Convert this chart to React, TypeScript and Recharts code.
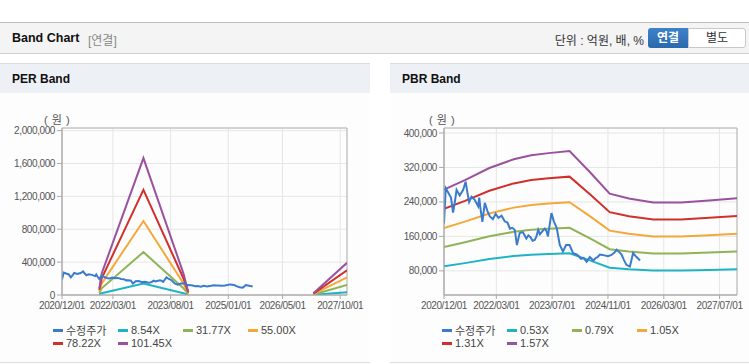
import React from 'react'
import { LineChart, Line, XAxis, YAxis, CartesianGrid, ReferenceArea } from 'recharts'

// months counted from 2020/12/01
const priceMonths = [
  0, 0.5, 1.2, 2, 2.6, 3.2, 3.6, 4.5, 5.5, 6.2, 6.7, 7.2, 7.9, 8.8, 9.4, 9.8, 10.1, 10.4, 11, 11.7,
  12.4, 13.1, 14, 14.8, 15.6, 16.5, 17.4, 18.2, 18.9, 19.6, 20.3, 20.9, 21.7, 22.6, 23.6, 24.2, 24.8, 25.4, 26, 26.5,
  27, 27.5, 28, 28.9, 29.4, 29.8, 30.8, 31.5, 32.3, 33.2, 34.1, 35, 36, 37, 38, 38.5, 39.3, 40, 40.9, 41.8,
  42.8, 43.5, 44, 44.7, 45.5, 46, 47, 48, 48.8, 49.5, 50.2, 50.9, 51.6, 52.3, 53.3, 54.2, 55.2, 56.2,
]
const priceValues = [
  190000, 272000, 262000, 250000, 215000, 245000, 268000, 255000, 268000, 287000, 262000, 240000, 252000, 245000, 236000, 230000, 250000, 228000, 194000, 238000,
  220000, 207000, 200000, 212000, 203000, 208000, 195000, 192000, 178000, 180000, 175000, 140000, 168000, 170000, 155000, 162000, 158000, 150000, 152000, 160000,
  175000, 165000, 170000, 178000, 172000, 160000, 214000, 195000, 180000, 140000, 125000, 140000, 140000, 121000, 118000, 115000, 108000, 110000, 101000, 112000,
  104000, 110000, 112000, 118000, 117000, 116000, 114000, 117000, 122000, 129000, 124000, 118000, 105000, 94000, 90000, 121000, 112000, 104000,
]

const perTickMonths = [0, 15, 32, 49, 65, 82]
const perTickLabels = ['2020/12/01', '2022/03/01', '2023/08/01', '2025/01/01', '2026/05/01', '2027/10/01']
const perYTicks = [0, 400000, 800000, 1200000, 1600000, 2000000]

const perBandMonths = [11, 11.7, 24, 35.8, 37.2, 55, 74.1, 84]
const per854 = [7000, 22000, 140000, 22000, 3000, null, 2000, 33000]
const per3177 = [25000, 82000, 522000, 82000, 13000, null, 6000, 122000]
const per5500 = [44000, 142000, 900000, 141000, 22000, null, 11000, 213000]
const per7822 = [62000, 202000, 1280000, 201000, 31000, null, 16000, 300000]
const per10145 = [80000, 262000, 1666000, 261000, 40000, null, 20000, 392000]

const pbrTickMonths = [0, 15, 31, 47, 63, 79]
const pbrTickLabels = ['2020/12/01', '2022/03/01', '2023/07/01', '2024/11/01', '2026/03/01', '2027/07/01']
const pbrYTicks = [80000, 160000, 240000, 320000, 400000]

const pbrBandMonths = [0, 6, 13, 20, 25, 30, 36, 42, 47.5, 53, 60, 68, 76, 84]
const pbr053 = [90600, 98000, 107600, 114500, 117700, 119300, 120800, 103900, 87500, 83700, 80600, 80600, 82200, 84000]
const pbr079 = [135100, 146200, 160400, 170600, 175400, 177800, 180100, 154800, 130400, 124800, 120100, 120100, 122500, 125200]
const pbr105 = [179600, 194300, 213200, 226800, 233100, 236300, 239400, 205800, 173300, 165900, 159600, 159600, 162800, 166400]
const pbr131 = [224000, 242400, 265900, 283000, 290800, 294800, 298700, 256800, 216200, 207000, 199100, 199100, 203100, 207600]
const pbr157 = [268500, 290500, 318700, 339100, 348500, 353300, 358000, 307700, 259100, 248100, 238600, 238600, 243400, 248800]

const colors = ['#3a7bcc', '#1fb3c6', '#8fb356', '#f5a83a', '#d0302b', '#9a519f']
const perNames = ['수정주가', '8.54X', '31.77X', '55.00X', '78.22X', '101.45X']
const pbrNames = ['수정주가', '0.53X', '0.79X', '1.05X', '1.31X', '1.57X']

const rows = (ms: number[], vs: (number | null)[]) => ms.map((m, i) => ({ m, v: vs[i] }))
const fmt = (v: number) => v.toLocaleString('en-US')

const FONT = '"Liberation Sans", Arial, "Noto Sans CJK KR", sans-serif'
const tickStyle = { fontSize: 10, fill: '#555', fontFamily: FONT, letterSpacing: -0.4 }

function Legend({ names, x }: { names: string[]; x: number }) {
  return (
    <>
      {names.map((n, i) => (
        <div
          key={n}
          style={{
            position: 'absolute',
            left: x + (i % 4) * 65,
            top: i < 4 ? 323 : 336,
            height: 14,
            display: 'flex',
            alignItems: 'center',
            fontSize: 11,
            color: '#444',
            whiteSpace: 'nowrap',
          }}
        >
          <span style={{ width: 10, height: 3, background: colors[i], marginRight: 3 }} />
          {n}
        </div>
      ))}
    </>
  )
}

function BandChart(props: {
  left: number
  width: number
  yWidth: number
  right: number
  domain: [number, number]
  yTicks: number[]
  xTicks: number[]
  xLabels: string[]
  bands: { months: number[]; values: (number | null)[] }[]
}) {
  const { left, width, yWidth, right, domain, yTicks, xTicks, xLabels, bands } = props
  const price = rows(priceMonths, priceValues)
  return (
    <div style={{ position: 'absolute', left, top: 93 }}>
      <LineChart width={width} height={224} margin={{ top: 35, right, bottom: 0, left: 0 }}>
        <CartesianGrid stroke="#e6e6e6" vertical horizontal />
        <XAxis
          dataKey="m"
          type="number"
          domain={[0, 84]}
          ticks={xTicks}
          tickFormatter={(m: number) => xLabels[xTicks.indexOf(m)]}
          height={22}
          tickSize={4}
          tickMargin={3}
          stroke="#aaa"
          tick={tickStyle}
          interval={0}
          allowDataOverflow
        />
        <YAxis
          type="number"
          domain={domain}
          ticks={yTicks}
          tickFormatter={fmt}
          width={yWidth}
          tickSize={5}
          tickMargin={2}
          stroke="#aaa"
          tick={tickStyle}
          interval={0}
          allowDataOverflow
        />
        <ReferenceArea x1={0} x2={84} y1={domain[0]} y2={domain[1]} fill="none" stroke="#b4b4b4" strokeWidth={1} />
        {bands.map((b, i) => (
          <Line
            key={i}
            data={rows(b.months, b.values)}
            dataKey="v"
            stroke={colors[i + 1]}
            strokeWidth={2}
            dot={false}
            isAnimationActive={false}
          />
        ))}
        <Line data={price} dataKey="v" stroke={colors[0]} strokeWidth={2} dot={false} isAnimationActive={false} />
      </LineChart>
    </div>
  )
}

export default function App() {
  const perBands = [per854, per3177, per5500, per7822, per10145].map((values) => ({ months: perBandMonths, values }))
  const pbrBands = [pbr053, pbr079, pbr105, pbr131, pbr157].map((values) => ({ months: pbrBandMonths, values }))

  return (
    <div
      style={{
        position: 'fixed',
        left: 0,
        top: 0,
        width: 749,
        height: 364,
        background: '#fff',
        overflow: 'hidden',
        fontFamily: FONT,
        color: '#222',
      }}
    >
      {/* top bar */}
      <div
        style={{
          position: 'absolute',
          left: 0,
          top: 22,
          width: 749,
          height: 30,
          background: '#f4f4f4',
          borderTop: '1px solid #bdbdbd',
          borderBottom: '1px solid #cfcfcf',
        }}
      >
        <span style={{ position: 'absolute', left: 12, top: 8, fontSize: 12.5, fontWeight: 'bold', color: '#111' }}>
          Band Chart
        </span>
        <span style={{ position: 'absolute', left: 88, top: 8, fontSize: 12, color: '#888' }}>[연결]</span>
        <span style={{ position: 'absolute', right: 105, top: 8, fontSize: 12, color: '#333' }}>단위 : 억원, 배, %</span>
        <div
          style={{
            position: 'absolute',
            left: 648,
            top: 5,
            width: 40,
            height: 20,
            background: 'linear-gradient(#3f82c9, #2b68ad)',
            borderRadius: '3px 0 0 3px',
            color: '#fff',
            fontWeight: 'bold',
            fontSize: 12,
            textAlign: 'center',
            lineHeight: '20px',
          }}
        >
          연결
        </div>
        <div
          style={{
            position: 'absolute',
            left: 688,
            top: 5,
            width: 56,
            height: 18,
            background: '#fff',
            border: '1px solid #c8c8c8',
            borderRadius: '0 3px 3px 0',
            color: '#333',
            fontSize: 12,
            textAlign: 'center',
            lineHeight: '18px',
          }}
        >
          별도
        </div>
      </div>

      {/* panels */}
      {[
        { x: 0, w: 370, title: 'PER Band' },
        { x: 390, w: 370, title: 'PBR Band' },
      ].map((p) => (
        <div
          key={p.title}
          style={{
            position: 'absolute',
            left: p.x,
            top: 63,
            width: p.w,
            height: 298,
            background: '#fdfdfd',
            borderTop: '1px solid #dcdcdc',
            borderBottom: '1px solid #dcdcdc',
          }}
        >
          <div style={{ height: 29, background: '#edf1f6' }}>
            <span style={{ position: 'absolute', left: 12, top: 8, fontSize: 12, fontWeight: 'bold', color: '#111' }}>
              {p.title}
            </span>
          </div>
        </div>
      ))}

      <span style={{ position: 'absolute', left: 44, top: 111, fontSize: 11, color: '#555', letterSpacing: 0.5 }}>( 원 )</span>
      <span style={{ position: 'absolute', left: 429, top: 111, fontSize: 11, color: '#555', letterSpacing: 0.5 }}>( 원 )</span>

      <BandChart
        left={0}
        width={370}
        yWidth={62}
        right={23}
        domain={[0, 2032000]}
        yTicks={perYTicks}
        xTicks={perTickMonths}
        xLabels={perTickLabels}
        bands={perBands}
      />
      <BandChart
        left={390}
        width={359}
        yWidth={54}
        right={12}
        domain={[24000, 411600]}
        yTicks={pbrYTicks}
        xTicks={pbrTickMonths}
        xLabels={pbrTickLabels}
        bands={pbrBands}
      />

      <Legend names={perNames} x={53} />
      <Legend names={pbrNames} x={442} />
    </div>
  )
}
